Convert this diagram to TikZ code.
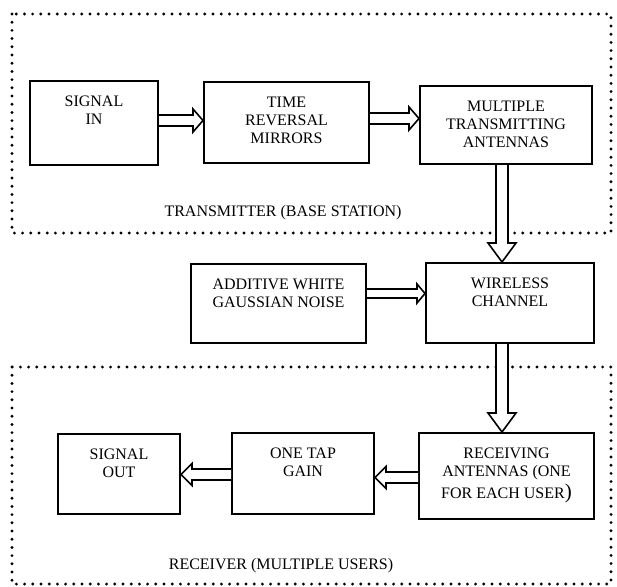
\documentclass[tikz,border=0pt]{standalone}
\usepackage{fontspec}
\setmainfont{Liberation Serif}
\usetikzlibrary{calc}

\tikzset{
  blkbox/.style={draw, line width=2pt, inner sep=0pt, anchor=north west,
    font=\fontsize{16}{18}\selectfont},
  region/.style={line width=3.2pt, dash pattern=on 0pt off 8.2pt, line cap=round},
  fat/.style={draw, line width=1.6pt, fill=white, line join=miter},
  caption/.style={font=\fontsize{16}{18}\selectfont, inner sep=0pt, anchor=base}
}

% block: name, left, top, right, bottom, text (first baseline 25.5 below the top edge)
\newcommand\blk[6]{%
  \node[blkbox] (#1) at (#2,#3)
    {\parbox[c][\dimexpr#5pt-#3pt\relax][t]{\dimexpr#4pt-#2pt\relax}%
      {\centering\rule{0pt}{25.5pt}#6\par}};}

% hollow block arrow: [head length] {shaft half width} {head half width} {start} {tip}
\newcommand\fatarrow[5][10pt]{%
  \coordinate (fa-s) at #4;
  \coordinate (fa-e) at #5;
  \coordinate (fa-b) at ($(fa-e)!#1!(fa-s)$);
  \draw[fat] ($(fa-s)!#2!90:(fa-e)$) -- ($(fa-b)!#2!-90:(fa-s)$)
    -- ($(fa-b)!#3!-90:(fa-s)$) -- (fa-e) -- ($(fa-b)!#3!90:(fa-s)$)
    -- ($(fa-b)!#2!90:(fa-s)$) -- ($(fa-s)!#2!-90:(fa-e)$);}

\begin{document}
\begin{tikzpicture}[x=1pt, y=-1pt]
\useasboundingbox (0,0) rectangle (617,586);

% transmitter and receiver regions
\draw[region] (12,14) rectangle (611,233);
\draw[region] (12,367) rectangle (611,584);
\node[caption] (txcap) at (283,216) {TRANSMITTER (BASE STATION)};
\node[caption] (rxcap) at (281,569) {RECEIVER (MULTIPLE USERS)};

% blocks
\blk{sig}{29}{80}{157}{164}{SIGNAL\\IN}
\blk{trm}{203}{81}{368}{162}{TIME\\REVERSAL\\MIRRORS}
\blk{mta}{419}{85}{591}{163}{MULTIPLE\\TRANSMITTING\\ANTENNAS}
\blk{awg}{190}{263}{365}{342}{ADDITIVE WHITE\\GAUSSIAN NOISE}
\blk{wch}{425}{262}{593}{342}{WIRELESS\\CHANNEL}
\blk{rca}{418}{432}{593}{518}{RECEIVING\\ANTENNAS (ONE\\[4pt]FOR EACH USER{\fontsize{21}{21}\selectfont)}}
\blk{otg}{231}{432}{373}{513}{ONE TAP\\GAIN}
\blk{sgo}{57}{433}{179}{513}{SIGNAL\\OUT}

% arrow levels and columns
\coordinate (ya) at (0,120.5);
\coordinate (yb) at (0,118.5);
\coordinate (yc) at (0,293.5);
\coordinate (yd) at (0,477.5);
\coordinate (ye) at (0,474.5);
\coordinate (xv) at (502,0);

% connectors
\fatarrow[10pt]{5.5pt}{11.5pt}{(sig.east |- ya)}{(trm.west |- ya)}
\fatarrow[10pt]{5.5pt}{11.5pt}{(trm.east |- yb)}{(mta.west |- yb)}
\fatarrow[19pt]{6pt}{14pt}{(xv |- mta.south)}{(xv |- wch.north)}
\fatarrow[8pt]{4.5pt}{9.5pt}{(awg.east |- yc)}{(wch.west |- yc)}
\fatarrow[19pt]{6pt}{14pt}{(xv |- wch.south)}{(xv |- rca.north)}
\fatarrow[11pt]{5.5pt}{11pt}{(rca.west |- yd)}{(otg.east |- yd)}
\fatarrow[11pt]{5.5pt}{11pt}{(otg.west |- ye)}{(sgo.east |- ye)}
\end{tikzpicture}
\end{document}
